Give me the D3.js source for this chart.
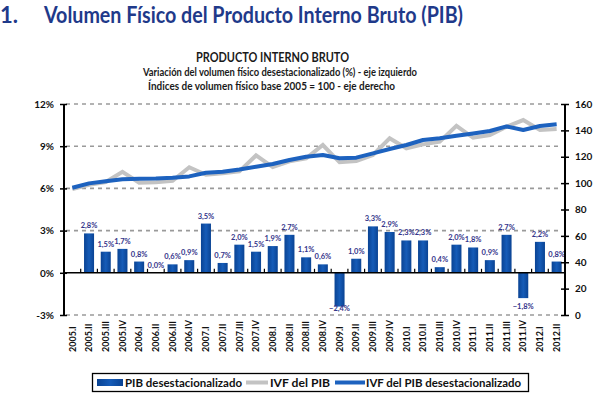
<!DOCTYPE html>
<html>
<head>
<meta charset="utf-8">
<script src="https://cdn.jsdelivr.net/npm/d3@7"></script>
<style>
  html, body { margin: 0; padding: 0; background: #fff; }
  svg { display: block; font-family: Lato, "Open Sans", sans-serif; }
</style>
</head>
<body>
<div id="chart"></div>
<script>
// quarters on the category axis
const quarters = ["2005.I", "2005.II", "2005.III", "2005.IV", "2006.I", "2006.II", "2006.III", "2006.IV",
    "2007.I", "2007.II", "2007.III", "2007.IV", "2008.I", "2008.II", "2008.III", "2008.IV",
    "2009.I", "2009.II", "2009.III", "2009.IV", "2010.I", "2010.II", "2010.III", "2010.IV",
    "2011.I", "2011.II", "2011.III", "2011.IV", "2012.I", "2012.II"];

// PIB desestacionalizado, variacion % (left axis) - no bar for 2005.I
const pibSA = [null, 2.8, 1.5, 1.7, 0.8, 0.0, 0.6, 0.9, 3.5, 0.7, 2.0, 1.5, 1.9, 2.7, 1.1, 0.6,
    -2.4, 1.0, 3.3, 2.9, 2.3, 2.3, 0.4, 2.0, 1.8, 0.9, 2.7, -1.8, 2.2, 0.8];

// IVF del PIB, base 2005 = 100 (right axis)
const ivf = [95.5, 98.8, 100.8, 108.6, 100.3, 100.6, 101.8, 112.0, 106.3, 107.4, 108.9, 121.0,
    112.2, 116.5, 118.8, 128.9, 115.8, 116.8, 121.3, 134.0, 126.4, 129.4, 131.4, 143.5,
    134.4, 136.5, 142.8, 147.8, 140.3, 141.0];

// IVF del PIB desestacionalizado (right axis)
const ivfSA = [96.5, 99.8, 101.4, 102.9, 103.4, 103.6, 104.1, 105.1, 107.9, 108.7, 110.4, 112.4,
    114.5, 117.5, 120.0, 121.3, 118.8, 119.3, 122.6, 125.9, 128.9, 132.7, 134.0, 135.9,
    137.7, 139.5, 143.0, 140.3, 143.3, 144.6];

const leftTicks = [-3, 0, 3, 6, 9, 12];
const rightTicks = [0, 20, 40, 60, 80, 100, 120, 140, 160];

const width = 596, height = 398;
const plot = { left: 64, right: 565, top: 104, bottom: 315 };

const svg = d3.select("#chart").append("svg")
    .attr("width", width)
    .attr("height", height);

// gradient used for the bars and the legend swatch
const grad = svg.append("defs").append("linearGradient")
    .attr("id", "barGrad")
    .attr("x1", "0%").attr("x2", "100%").attr("y1", "0%").attr("y2", "0%");
grad.append("stop").attr("offset", "0%").attr("stop-color", "#0a4393");
grad.append("stop").attr("offset", "50%").attr("stop-color", "#165cb8");
grad.append("stop").attr("offset", "100%").attr("stop-color", "#0a4393");

// ---- titles
svg.append("text")
    .attr("x", 0).attr("y", 23)
    .attr("font-size", 22).attr("font-weight", "bold")
    .attr("fill", "#1f3a8a")
    .text("1.");
svg.append("text")
    .attr("x", 44).attr("y", 23)
    .attr("font-size", 22).attr("font-weight", "bold")
    .attr("fill", "#1f3a8a")
    .attr("textLength", 419).attr("lengthAdjust", "spacingAndGlyphs")
    .text("Volumen Físico del Producto Interno Bruto (PIB)");

svg.append("text")
    .attr("x", 196).attr("y", 62)
    .attr("font-size", 12.5).attr("font-weight", "bold").attr("fill", "#1a1a1a")
    .attr("textLength", 153).attr("lengthAdjust", "spacingAndGlyphs")
    .text("PRODUCTO INTERNO BRUTO");
svg.append("text")
    .attr("x", 143).attr("y", 76)
    .attr("font-size", 11).attr("font-weight", "bold").attr("fill", "#1a1a1a")
    .attr("textLength", 274).attr("lengthAdjust", "spacingAndGlyphs")
    .text("Variación del volumen físico desestacionalizado (%) - eje izquierdo");
svg.append("text")
    .attr("x", 148).attr("y", 90)
    .attr("font-size", 11).attr("font-weight", "bold").attr("fill", "#1a1a1a")
    .attr("textLength", 247).attr("lengthAdjust", "spacingAndGlyphs")
    .text("Índices de volumen físico base 2005 = 100 - eje derecho");

// ---- scales
const x = d3.scaleBand()
    .domain(quarters)
    .range([plot.left, plot.right])
    .paddingInner(0.4)
    .paddingOuter(0.2);

const yL = d3.scaleLinear().domain([-3, 12]).range([plot.bottom, plot.top]);
const yR = d3.scaleLinear().domain([0, 160]).range([plot.bottom, plot.top]);

const cx = q => x(q) + x.bandwidth() / 2;

// ---- dashed grid lines (left axis values)
svg.append("g")
    .selectAll("line")
    .data(leftTicks.filter(d => d !== 0))
    .enter()
    .append("line")
    .attr("x1", plot.left + 2).attr("x2", plot.right - 4)
    .attr("y1", d => yL(d)).attr("y2", d => yL(d))
    .attr("stroke", "#9a9a9a")
    .attr("stroke-width", 1.6)
    .attr("stroke-dasharray", "4,4");

// ---- bars
const barData = quarters.map((q, i) => ({ q: q, v: pibSA[i] })).filter(d => d.v !== null);

svg.append("g")
    .selectAll("rect")
    .data(barData)
    .enter()
    .append("rect")
    .attr("x", d => x(d.q))
    .attr("y", d => yL(Math.max(0, d.v)))
    .attr("width", x.bandwidth())
    .attr("height", d => Math.abs(yL(d.v) - yL(0)))
    .attr("fill", "url(#barGrad)");

// bar value labels, decimal comma
const pct = v => d3.format(".1f")(v).replace(".", ",") + "%";
svg.append("g")
    .selectAll("text")
    .data(barData)
    .enter()
    .append("text")
    .attr("x", d => cx(d.q))
    .attr("y", d => d.v >= 0 ? yL(d.v) - 5 : Math.min(yL(d.v) + 11, 311))
    .attr("text-anchor", "middle")
    .attr("font-size", 7.5)
    .attr("font-weight", "bold")
    .attr("fill", "#34348a")
    .text(d => pct(d.v));

// ---- lines (right axis)
const line = d3.line()
    .x((d, i) => cx(quarters[i]))
    .y(d => yR(d));

svg.append("path")
    .datum(ivf)
    .attr("d", line)
    .attr("fill", "none")
    .attr("stroke", "#c3c3c3")
    .attr("stroke-width", 4)
    .attr("stroke-linejoin", "miter");

svg.append("path")
    .datum(ivfSA)
    .attr("d", line)
    .attr("fill", "none")
    .attr("stroke", "#1d62bf")
    .attr("stroke-width", 4)
    .attr("stroke-linejoin", "round");

// ---- zero line with ticks between categories
const zeroAxis = svg.append("g").attr("transform", `translate(0, ${yL(0)})`);
zeroAxis.append("line")
    .attr("x1", plot.left).attr("x2", plot.right)
    .attr("stroke", "#000").attr("stroke-width", 1.5);
zeroAxis.selectAll(".sep")
    .data(quarters.slice(1))
    .enter()
    .append("line")
    .attr("class", "sep")
    .attr("x1", d => x(d) - x.step() * x.paddingInner() / 2)
    .attr("x2", d => x(d) - x.step() * x.paddingInner() / 2)
    .attr("y1", 0).attr("y2", -4)
    .attr("stroke", "#000").attr("stroke-width", 1.2);

// ---- category labels at the bottom, rotated
const bottomAxis = d3.axisBottom(x).tickSize(0).tickPadding(0);
const xg = svg.append("g")
    .attr("transform", `translate(0, 352)`)
    .call(bottomAxis);
xg.select(".domain").remove();
xg.selectAll("text")
    .attr("transform", "rotate(-90)")
    .attr("x", 0).attr("y", 0).attr("dy", "0.35em")
    .attr("text-anchor", "start")
    .attr("font-family", "Lato, sans-serif")
    .attr("font-size", 9)
    .attr("font-weight", "bold")
    .attr("fill", "#111");

// ---- left axis
const leftAxis = d3.axisLeft(yL).tickValues(leftTicks).tickFormat(d => d + "%").tickSize(4).tickPadding(6);
const lg = svg.append("g")
    .attr("transform", `translate(${plot.left}, 0)`)
    .call(leftAxis);
lg.select(".domain").attr("stroke", "#000").attr("stroke-width", 2).attr("d", `M0,${plot.top}V${plot.bottom}`);
lg.selectAll(".tick line").attr("x1", -4).attr("x2", 3).attr("stroke-width", 1.5);
lg.selectAll(".tick text")
    .attr("font-family", "Lato, sans-serif")
    .attr("font-size", 10).attr("font-weight", "bold").attr("fill", "#111");

// ---- right axis
const rightAxis = d3.axisRight(yR).tickValues(rightTicks).tickSize(4).tickPadding(6);
const rg = svg.append("g")
    .attr("transform", `translate(${plot.right}, 0)`)
    .call(rightAxis);
rg.select(".domain").attr("stroke", "#000").attr("stroke-width", 2).attr("d", `M0,${plot.top}V${plot.bottom}`);
rg.selectAll(".tick line").attr("x1", -4).attr("x2", 4).attr("stroke-width", 1.5);
rg.selectAll(".tick text")
    .attr("font-family", "Lato, sans-serif")
    .attr("font-size", 10).attr("font-weight", "bold").attr("fill", "#111");

// ---- legend
const legend = svg.append("g");
legend.append("rect")
    .attr("x", 92.5).attr("y", 373.5).attr("width", 436).attr("height", 18)
    .attr("fill", "#fff").attr("stroke", "#000").attr("stroke-width", 1.3);

legend.append("rect")
    .attr("x", 97).attr("y", 379).attr("width", 26).attr("height", 7)
    .attr("fill", "url(#barGrad)");
legend.append("text")
    .attr("x", 125).attr("y", 386.5)
    .attr("font-size", 11).attr("font-weight", "bold").attr("fill", "#111")
    .attr("textLength", 117).attr("lengthAdjust", "spacingAndGlyphs")
    .text("PIB desestacionalizado");

legend.append("line")
    .attr("x1", 246).attr("x2", 268).attr("y1", 382.5).attr("y2", 382.5)
    .attr("stroke", "#c3c3c3").attr("stroke-width", 4);
legend.append("text")
    .attr("x", 270).attr("y", 386.5)
    .attr("font-size", 11).attr("font-weight", "bold").attr("fill", "#111")
    .attr("textLength", 60).attr("lengthAdjust", "spacingAndGlyphs")
    .text("IVF del PIB");

legend.append("line")
    .attr("x1", 335).attr("x2", 365).attr("y1", 382.5).attr("y2", 382.5)
    .attr("stroke", "#1d62bf").attr("stroke-width", 4);
legend.append("text")
    .attr("x", 366).attr("y", 386.5)
    .attr("font-size", 11).attr("font-weight", "bold").attr("fill", "#111")
    .attr("textLength", 155).attr("lengthAdjust", "spacingAndGlyphs")
    .text("IVF del PIB desestacionalizado");
</script>
</body>
</html>
